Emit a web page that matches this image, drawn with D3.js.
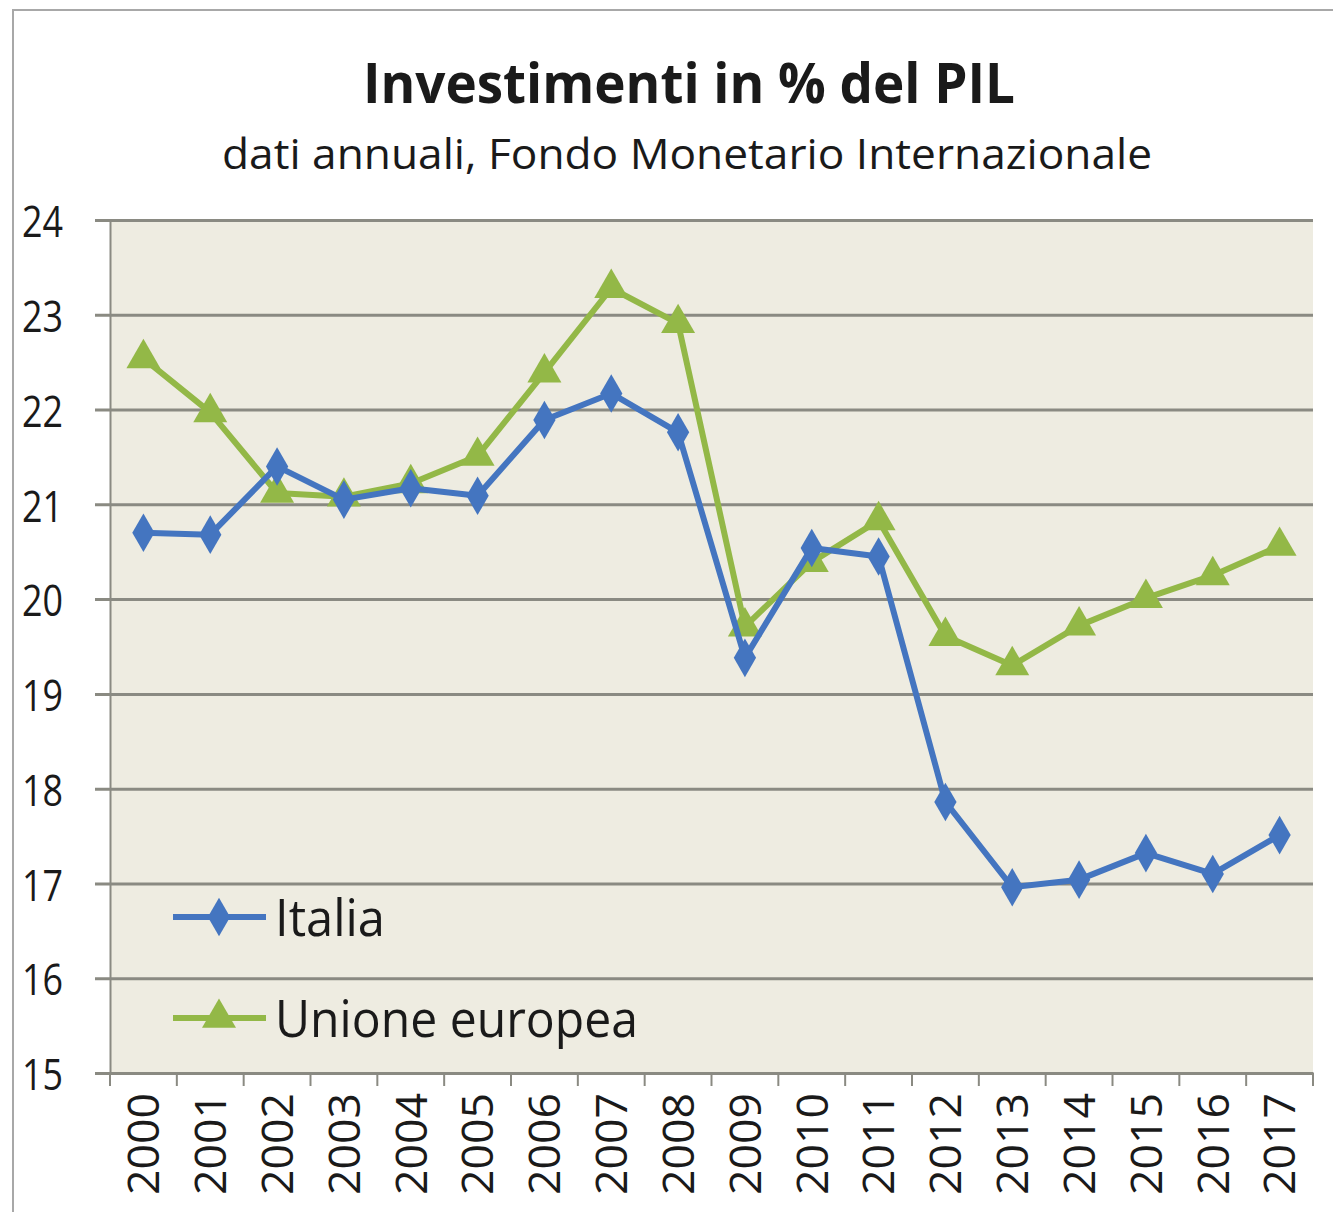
<!DOCTYPE html>
<html>
<head>
<meta charset="utf-8">
<script src="https://cdn.jsdelivr.net/npm/d3@7"></script>
<style>
  body { margin: 0; background: #fff; }
  svg { display: block; }
  text { font-family: "Open Sans", sans-serif; fill: #1a1a1a; }
</style>
</head>
<body>
<svg id="chart" width="1333" height="1212"></svg>
<script>
const years = ["2000","2001","2002","2003","2004","2005","2006","2007","2008",
               "2009","2010","2011","2012","2013","2014","2015","2016","2017"];
const italia = [20.70, 20.68, 21.40, 21.05, 21.17, 21.09, 21.89, 22.17, 21.76,
                19.38, 20.54, 20.45, 17.86, 16.96, 17.04, 17.32, 17.10, 17.51];
const ue = [22.54, 21.97, 21.12, 21.08, 21.22, 21.51, 22.39, 23.28, 22.91,
            19.71, 20.39, 20.83, 19.61, 19.30, 19.72, 20.01, 20.25, 20.56];
const yTicks = [15, 16, 17, 18, 19, 20, 21, 22, 23, 24];

const blue = "#4475c0", green = "#93b847";

const svg = d3.select("#chart");
const plotLeft = 110, plotRight = 1313, plotTop = 220, plotBottom = 1073;

const x = d3.scaleBand().domain(years).range([plotLeft, plotRight]);
const y = d3.scaleLinear().domain([15, 24]).range([plotBottom, plotTop]);
const cx = d => x(d) + x.bandwidth() / 2;

// frame
svg.append("path")
  .attr("d", "M13,1212 V10 H1333")
  .attr("fill", "none").attr("stroke", "#a8a8a8").attr("stroke-width", 2);

// titles
svg.append("text")
  .attr("x", 689).attr("y", 103)
  .attr("text-anchor", "middle")
  .attr("font-size", 56).attr("font-weight", "bold")
  .attr("textLength", 652).attr("lengthAdjust", "spacingAndGlyphs")
  .text("Investimenti in % del PIL");

svg.append("text")
  .attr("x", 687).attr("y", 169)
  .attr("text-anchor", "middle")
  .attr("font-size", 42).attr("fill", "#333")
  .attr("textLength", 930).attr("lengthAdjust", "spacingAndGlyphs")
  .text("dati annuali, Fondo Monetario Internazionale");

// plot background
svg.append("rect")
  .attr("x", plotLeft).attr("y", plotTop)
  .attr("width", plotRight - plotLeft).attr("height", plotBottom - plotTop)
  .attr("fill", "#eeece1");

// gridlines + y axis
const yAxis = svg.append("g")
  .attr("transform", `translate(${plotLeft},0)`)
  .call(d3.axisLeft(y).tickValues(yTicks).tickSize(15).tickSizeOuter(0).tickPadding(32));
yAxis.select(".domain").attr("stroke", "#8a8a82").attr("stroke-width", 2);
yAxis.selectAll(".tick line").attr("stroke", "#8a8a82").attr("stroke-width", 3)
  .attr("x2", -15).attr("x1", plotRight - plotLeft);
yAxis.selectAll(".tick text")
  .attr("font-size", 44).attr("fill", "#1a1a1a")
  .attr("font-family", "'Open Sans', sans-serif")
  .attr("textLength", 41).attr("lengthAdjust", "spacingAndGlyphs")
  .attr("dy", "0.38em");

// x axis
const xAxis = svg.append("g")
  .attr("transform", `translate(0,${plotBottom})`)
  .call(d3.axisBottom(x).tickSize(0).tickSizeOuter(0));
xAxis.select(".domain").attr("stroke", "#8a8a82").attr("stroke-width", 3);
xAxis.selectAll(".tick text")
  .attr("font-size", 44).attr("fill", "#1a1a1a")
  .attr("font-family", "'Open Sans', sans-serif")
  .attr("text-anchor", "end")
  .attr("transform", "rotate(-90)")
  .attr("x", -20).attr("y", 0).attr("dy", "0.36em")
  .attr("textLength", 102).attr("lengthAdjust", "spacingAndGlyphs");
xAxis.selectAll(".boundary")
  .data(d3.range(years.length + 1))
  .enter().append("line")
  .attr("x1", i => plotLeft + i * x.step()).attr("x2", i => plotLeft + i * x.step())
  .attr("y1", 0).attr("y2", 13)
  .attr("stroke", "#8a8a82").attr("stroke-width", 2);

// lines
const line = d3.line().x((d, i) => cx(years[i])).y(d => y(d));

const diamond = d3.symbol().type(d3.symbolDiamond).size(430);
const triangle = d3.symbol().type(d3.symbolTriangle).size(500);

function drawSeries(values, color, sym) {
  svg.append("path")
    .datum(values)
    .attr("d", line)
    .attr("fill", "none").attr("stroke", color)
    .attr("stroke-width", 6).attr("stroke-linejoin", "round");
  svg.append("g").selectAll("path")
    .data(values)
    .enter().append("path")
    .attr("d", sym)
    .attr("transform", (d, i) => `translate(${cx(years[i])},${y(d)})`)
    .attr("fill", color);
}
drawSeries(ue, green, triangle);
drawSeries(italia, blue, diamond);

// legend
const legend = [
  { name: "Italia", color: blue, sym: diamond, y: 917, len: 110 },
  { name: "Unione europea", color: green, sym: triangle, y: 1018, len: 363 }
];
const lg = svg.append("g").selectAll("g")
  .data(legend)
  .enter().append("g")
  .attr("transform", d => `translate(0,${d.y})`);
lg.append("line")
  .attr("x1", 173).attr("x2", 266)
  .attr("stroke", d => d.color).attr("stroke-width", 6);
lg.append("path")
  .attr("d", d => d.sym())
  .attr("transform", "translate(219,0)")
  .attr("fill", d => d.color);
lg.append("text")
  .attr("x", 275).attr("dy", "0.36em")
  .attr("font-size", 52)
  .attr("textLength", d => d.len).attr("lengthAdjust", "spacingAndGlyphs")
  .text(d => d.name);
</script>
</body>
</html>
